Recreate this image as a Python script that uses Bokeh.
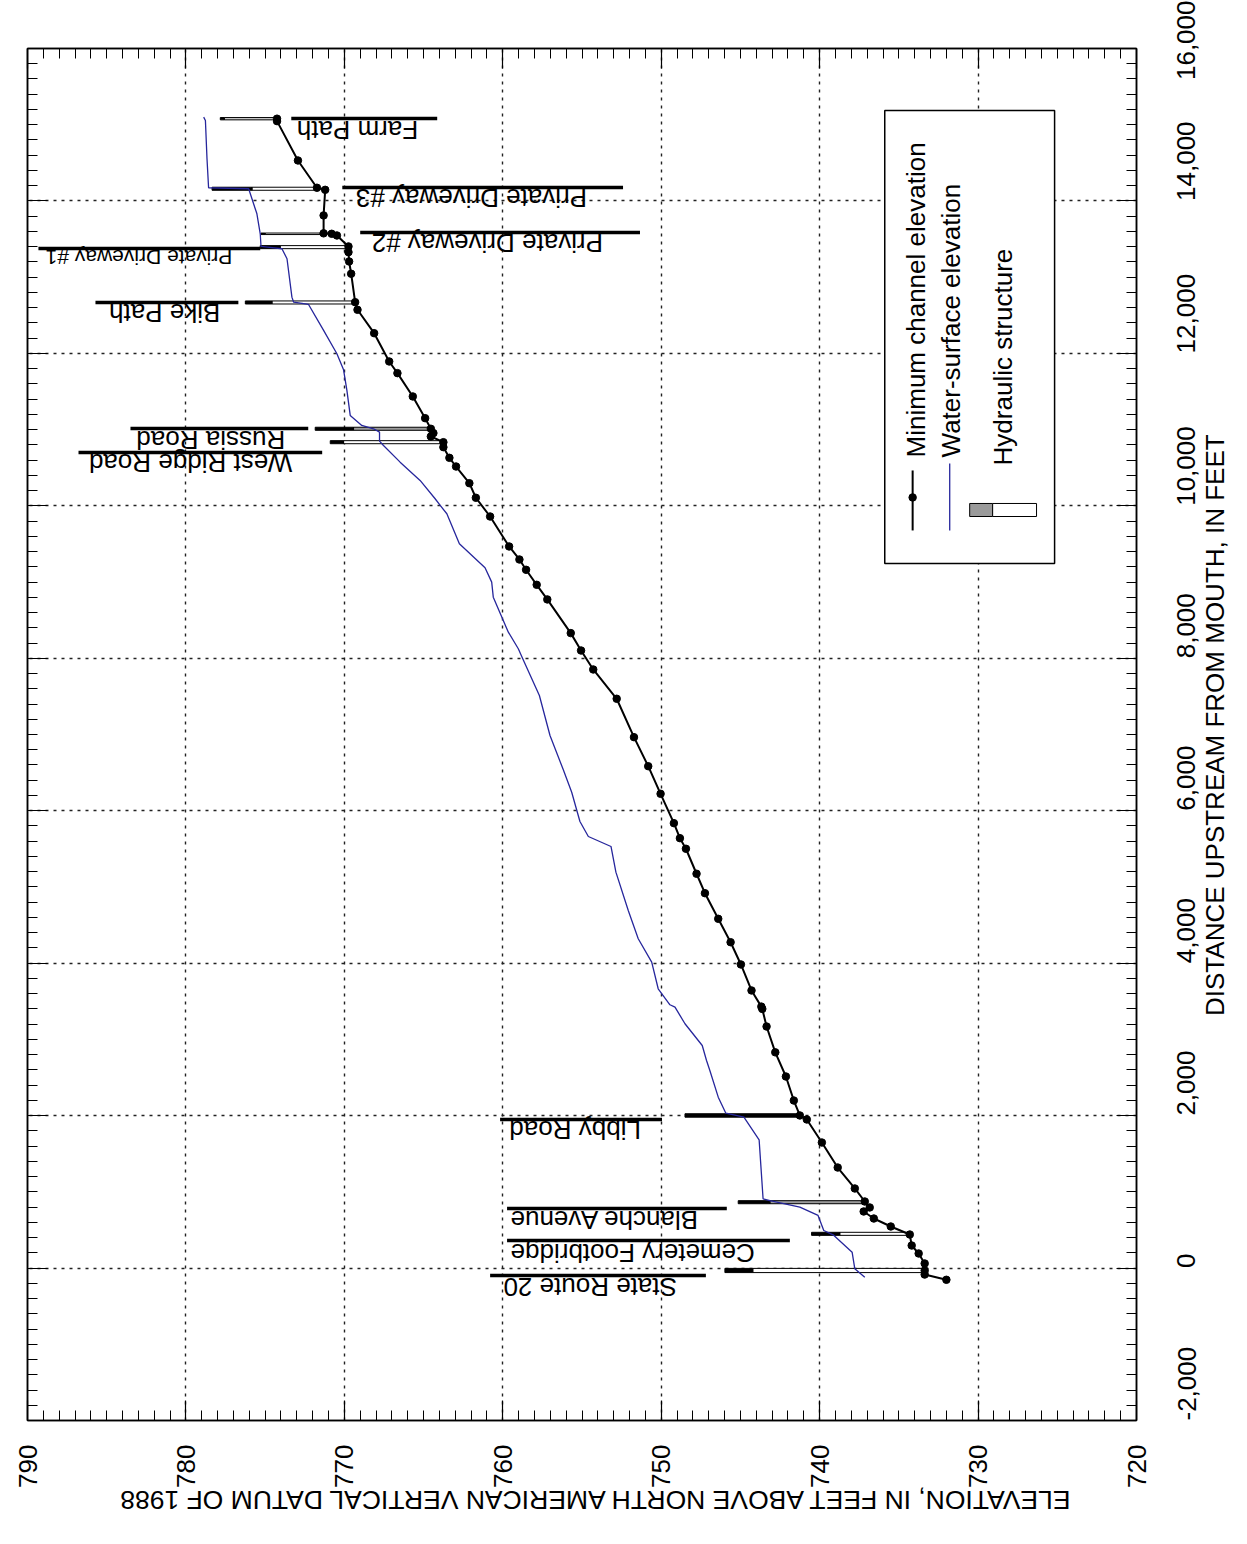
from math import pi
from bokeh.plotting import figure
from bokeh.models import (Range1d, LinearAxis, SingleIntervalTicker,
                          NumeralTickFormatter, ColumnDataSource, CustomLabelingPolicy)
from bokeh.core.properties import value
from bokeh.embed import file_html
from bokeh.resources import INLINE

FONT = "Liberation Sans"
NBSP = "\u00a0"

# ---------------- data ----------------
# Minimum channel elevation (distance upstream, ft ; elevation, ft NAVD88)
min_dist = [-154, -85, -32, 60, 191, 296, 440, 545, 650, 742, 795, 873, 1044, 1319,
            1647, 1949, 2002, 2198, 2513, 2830, 3169, 3400, 3430, 3642, 3983, 4275,
            4582, 4918, 5173, 5501, 5640, 5837, 6222, 6584, 6965, 7469, 7853, 8102,
            8330, 8772, 8964, 9161, 9296, 9467, 9860, 10106, 10297, 10516, 10630,
            10770, 10835, 10910, 10954, 11011, 11150, 11435, 11741, 11894, 12265,
            12572, 12672, 13045, 13206, 13328, 13403, 13547, 13569, 13575, 13810,
            14146, 14173, 14531, 15047, 15079]
min_elev = [732.0, 733.37, 733.37, 733.37, 733.75, 734.19, 734.31, 735.51, 736.58,
            737.22, 736.84, 737.15, 737.78, 738.86, 739.86, 740.81, 741.25, 741.63,
            742.13, 742.8, 743.35, 743.62, 743.68, 744.30, 744.97, 745.62, 746.40,
            747.24, 747.77, 748.44, 748.82, 749.20, 750.04, 750.82, 751.72, 752.81,
            754.29, 755.06, 755.71, 757.19, 757.86, 758.53, 758.95, 759.60, 760.80,
            761.70, 762.11, 762.95, 763.37, 763.75, 763.75, 764.54, 764.38, 764.54,
            764.90, 765.68, 766.65, 767.17, 768.12, 769.17, 769.32, 769.57, 769.70,
            769.74, 769.74, 770.47, 770.80, 771.31, 771.31, 771.21, 771.73, 772.93,
            774.25, 774.25]

# Water-surface elevation
ws_dist = [-120, -10, 208, 436, 493, 690, 799, 886, 909, 1683, 1979, 2032, 2242,
           2592, 2723, 2920, 3205, 3423, 3454, 3664, 4013, 4320, 4691, 5194, 5531,
           5662, 5859, 6243, 6537, 6987, 7512, 7994, 8125, 8343, 8802, 8999, 9187,
           9502, 9896, 10005, 10093, 10333, 10573, 10792, 10849, 10967, 11011,
           11054, 11186, 11514, 11785, 11995, 12301, 12642, 12672, 12738, 13242,
           13373, 13394, 13403, 13569, 13831, 14160, 14173, 14554, 15056, 15100]
ws_elev = [737.15, 737.78, 737.95, 739.15, 739.74, 740.10, 741.25, 743.14, 743.57,
           743.82, 744.78, 745.92, 746.40, 746.93, 747.14, 747.41, 748.50, 749.13,
           749.45, 750.19, 750.60, 751.45, 752.08, 752.86, 753.17, 754.60, 755.13,
           755.65, 756.18, 757.02, 757.69, 758.74, 759.02, 759.65, 760.60, 760.70,
           761.12, 762.74, 763.53, 763.95, 764.27, 765.22, 766.48, 767.53, 767.78,
           767.78, 768.16, 768.90, 769.63, 769.84, 770.05, 770.47, 771.31, 772.26,
           773.20, 773.31, 773.62, 773.94, 774.85, 775.26, 775.31, 775.52, 776.04,
           778.57, 778.67, 778.77, 778.88]

# Hydraulic structures
struct_names = ["State Route 20", "Cemetery Footbridge", "Blanche Avenue", "Libby Road",
                "West Ridge Road", "Russia Road", "Bike Path", "Private Driveway #1",
                "Private Driveway #2", "Private Driveway #3", "Farm Path"]
struct_dist = [-32, 449, 864, 2002, 10835, 11011, 12668, 13394, 13569, 14160, 15079]
struct_top = [745.98, 740.51, 745.14, 748.5, 770.89, 771.84, 776.25, 775.31, 775.26,
              778.35, 777.83]
struct_low_chord = [744.22, 738.73, 743.14, 741.25, 770.05, 769.42, 774.57, 774.05,
                    775.0, 775.83, 777.58]
struct_bottom = [733.37, 734.31, 737.15, 741.25, 763.75, 764.38, 769.32, 769.74,
                 771.31, 771.73, 774.25]

# Structure labels: leader line (distance, from elev, to elev) and text anchor
label_line_dist = [-98, 362, 781, 1949, 10700, 11015, 12668, 13377, 13587, 14177, 15082]
label_line_from = [760.8, 759.73, 759.73, 760.17, 786.78, 783.5, 785.71, 789.31, 769.0,
                   770.13, 773.35]
label_line_to = [747.18, 741.88, 745.86, 749.95, 771.4, 772.28, 776.69, 775.31, 751.34,
                 752.41, 764.14]
label_text_elev = [749.01, 744.09, 747.68, 751.28, 773.29, 773.73, 777.83, 777.07,
                   753.68, 754.68, 765.34]
label_text_dist = [-255, 191, 624, 1805, 10556, 10858, 12524, 13259, 13442, 14033, 14925]

x_title = "ELEVATION, IN FEET ABOVE NORTH AMERICAN VERTICAL DATUM OF 1988"
y_title = "DISTANCE UPSTREAM FROM MOUTH, IN FEET"

# ---------------- styles ----------------
struct_thickness = [55, 40, 40, 45, 40, 40, 40, 40, 20, 40, 30]
struct_open_fill = ["white", "white", "#9a9a9a", "white", "white", "#9a9a9a",
                    "white", "white", "white", "white", "#cfcfcf"]
label_font_sizes = ["26px"] * 7 + ["21px"] + ["26px"] * 3

BLUE = "#26269c"

p = figure(width=1247, height=1536,
           x_range=Range1d(790, 720), y_range=Range1d(-2000, 16000),
           output_backend="svg", toolbar_location=None,
           x_axis_location="below", y_axis_location="right",
           min_border_left=27, min_border_right=110,
           min_border_top=48, min_border_bottom=116)
p.background_fill_color = "white"
p.border_fill_color = "white"
p.outline_line_color = "black"
p.outline_line_width = 1.5

xt = SingleIntervalTicker(interval=10, num_minor_ticks=10)
yt = SingleIntervalTicker(interval=2000, num_minor_ticks=10)


def style_axis(ax, ticker, size="26px"):
    ax.ticker = ticker
    ax.axis_line_color = "black"
    ax.axis_line_width = 1.5
    ax.major_tick_in = 20
    ax.major_tick_out = 0
    ax.minor_tick_in = 10
    ax.minor_tick_out = 0
    ax.major_tick_line_color = "black"
    ax.minor_tick_line_color = "black"
    ax.major_tick_line_width = 1.2
    ax.minor_tick_line_width = 1
    ax.major_label_text_font = FONT
    ax.major_label_text_color = "black"
    ax.major_label_text_font_size = size
    ax.axis_label_text_font = FONT
    ax.axis_label_text_font_size = "26px"
    ax.axis_label_text_font_style = "normal"
    ax.axis_label_text_color = "black"


def set_label_geom(ax, angle, align):
    props = ax.properties()
    if "axis_label_orientation" in props:
        ax.axis_label_orientation = angle
    if "axis_label_align" in props:
        ax.axis_label_align = align


xb = p.xaxis[0]
style_axis(xb, xt)
xb.major_label_orientation = pi / 2
xb.major_label_standoff = 24
xb.axis_label = x_title + NBSP * 12
xb.axis_label_standoff = 9
xb.axis_label_text_font_size = "26.5px"
set_label_geom(xb, pi, "end")

yr = p.yaxis[0]
style_axis(yr, yt)
yr.formatter = NumeralTickFormatter(format="0,0")
yr.major_label_orientation = pi / 2
yr.major_label_standoff = 50
yr.axis_label = NBSP * 56 + y_title
yr.axis_label_standoff = 7
set_label_geom(yr, pi / 2, "start")

no_labels = "for (const i of indices) indices.unset(i); return indices"
xa = LinearAxis()
style_axis(xa, xt, "1px")
xa.major_label_policy = CustomLabelingPolicy(code=no_labels)
p.add_layout(xa, "above")
yl = LinearAxis()
style_axis(yl, yt, "1px")
yl.major_label_policy = CustomLabelingPolicy(code=no_labels)
p.add_layout(yl, "left")

for g, t in ((p.xgrid, xt), (p.ygrid, yt)):
    g.ticker = t
    g.grid_line_color = "#222222"
    g.grid_line_dash = "3 5"
    g.grid_line_width = 1.4

# structures
half = [t / 2.0 for t in struct_thickness]
sb = [d - h for d, h in zip(struct_dist, half)]
st = [d + h for d, h in zip(struct_dist, half)]
open_src = ColumnDataSource(dict(left=struct_low_chord, right=struct_bottom,
                                 bottom=sb, top=st, fill=struct_open_fill))
p.quad(left="left", right="right", bottom="bottom", top="top", source=open_src,
       fill_color="fill", line_color="black", line_width=1)
deck_src = ColumnDataSource(dict(left=struct_top, right=struct_low_chord,
                                 bottom=sb, top=st))
p.quad(left="left", right="right", bottom="bottom", top="top", source=deck_src,
       fill_color="black", line_color="black", line_width=1)

# water surface
p.line(ws_elev, ws_dist, line_color=BLUE, line_width=1.3)

# minimum channel
p.line(min_elev, min_dist, line_color="black", line_width=2)
p.scatter(min_elev, min_dist, size=7.5, fill_color="black", line_color="black")

# structure labels
p.segment(x0=label_line_from, y0=label_line_dist, x1=label_line_to, y1=label_line_dist,
          line_color="black", line_width=3.5)
lab_src = ColumnDataSource(dict(x=label_text_elev, y=label_text_dist, text=struct_names,
                                fs=label_font_sizes))
p.text(x="x", y="y", text="text", source=lab_src, angle=pi, text_align="left",
       text_baseline="middle", text_font=value(FONT), text_font_size="fs",
       text_color="black")

# legend (drawn manually, rotated)
p.quad(left=[735.89], right=[725.17], bottom=[9244], top=[15187],
       fill_color="white", line_color="black", line_width=1.5)
p.segment(x0=[734.13], y0=[9677], x1=[734.13], y1=[10464], line_color="black", line_width=2)
p.scatter([734.13], [10110], size=7.5, fill_color="black", line_color="black")
p.segment(x0=[731.79], y0=[9677], x1=[731.79], y1=[10556], line_color=BLUE, line_width=1.3)
p.quad(left=[730.53], right=[729.08], bottom=[9860], top=[10031],
       fill_color="#9a9a9a", line_color="black", line_width=1)
p.quad(left=[729.08], right=[726.31], bottom=[9860], top=[10031],
       fill_color="white", line_color="black", line_width=1)
p.text(x=[733.94, 731.73, 728.45], y=[10635, 10635, 10530],
       text=["Minimum channel elevation", "Water-surface elevation", "Hydraulic structure"],
       angle=pi / 2, text_align="left", text_baseline="middle",
       text_font=value(FONT), text_font_size=value("26px"), text_color="black")

open("out.html", "w").write(file_html(p, INLINE))
